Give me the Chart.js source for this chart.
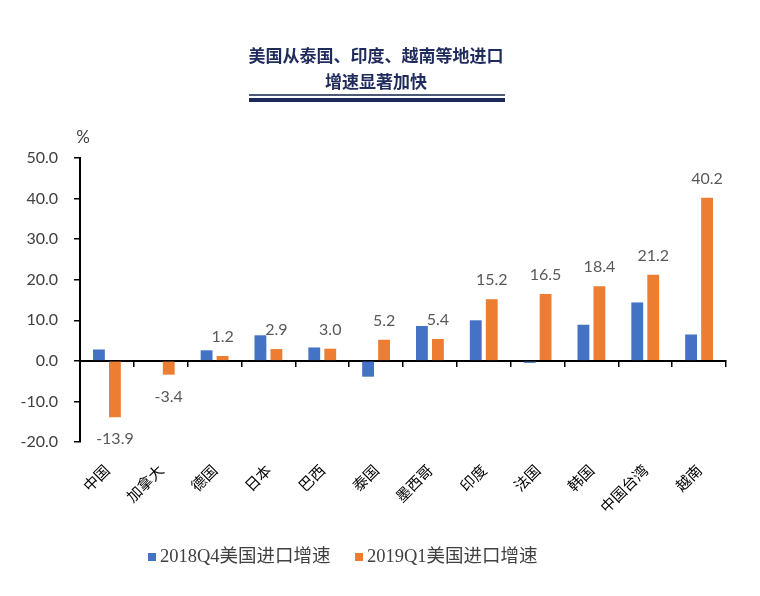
<!DOCTYPE html>
<html lang="zh-CN">
<head>
<meta charset="utf-8">
<title>美国从泰国、印度、越南等地进口增速显著加快</title>
<script src="https://cdn.jsdelivr.net/npm/chart.js@4/dist/chart.umd.min.js"></script>
<style>
  html, body { margin: 0; padding: 0; background: #fff; }
  #page { position: relative; width: 760px; height: 596px; overflow: hidden; }
  #chartBox { position: absolute; left: 0; top: 0; width: 760px; height: 596px; }
  .title {
    position: absolute; left: 0; width: 752px; text-align: center;
    font: bold 17px "Noto Sans CJK SC", sans-serif; color: #1f2b5c; line-height: 24px;
  }
  .rule { position: absolute; left: 249px; width: 256px; }
  .rule.thin { top: 94px; height: 2px; background: #4c5a78; }
  .rule.thick { top: 98px; height: 4px; background: #1c2a5a; }
  .legend-item {
    position: absolute; top: 541px; height: 24px; line-height: 24px;
    font: 18.5px "Liberation Serif", "Noto Sans CJK SC", serif; color: #404040; white-space: nowrap;
  }
  .legend-item i { display: inline-block; width: 8px; height: 8px; margin-right: 4px; vertical-align: 1px; }
</style>
</head>
<body>
<div id="page">
  <div id="chartBox"><canvas id="chart"></canvas></div>
  <div class="title" style="top:43px">美国从泰国、印度、越南等地进口</div>
  <div class="title" style="top:69px">增速显著加快</div>
  <div class="rule thin"></div>
  <div class="rule thick"></div>
  <div class="legend-item" style="left:148px"><i style="background:#4472c4"></i>2018Q4美国进口增速</div>
  <div class="legend-item" style="left:355px"><i style="background:#ed7d31"></i>2019Q1美国进口增速</div>
</div>
<script>
'use strict';

// 国家/地区
const categories = ['中国', '加拿大', '德国', '日本', '巴西', '泰国', '墨西哥', '印度', '法国', '韩国', '中国台湾', '越南'];
// 2018Q4 美国进口增速（%，从图上估读）
const importGrowth2018Q4 = [2.8, 0, 2.6, 6.3, 3.3, -3.9, 8.6, 10.0, -0.5, 8.9, 14.4, 6.5];
// 2019Q1 美国进口增速（%，图中标注）
const importGrowth2019Q1 = [-13.9, -3.4, 1.2, 2.9, 3.0, 5.2, 5.4, 15.2, 16.5, 18.4, 21.2, 40.2];
const seriesNames = ['2018Q4美国进口增速', '2019Q1美国进口增速'];
const yMin = -20, yMax = 50, yStep = 10;

const BLUE = '#4472c4';
const ORANGE = '#ed7d31';

Chart.defaults.font.family = 'Lato, "Noto Sans CJK SC", sans-serif';

// 橙色柱上方/下方的数值标注
const valueLabels = {
  id: 'valueLabels',
  afterDatasetsDraw(chart) {
    const { ctx } = chart;
    const meta = chart.getDatasetMeta(1);
    ctx.save();
    ctx.font = '16px Lato, sans-serif';
    ctx.fillStyle = '#595959';
    ctx.textAlign = 'center';
    ctx.textBaseline = 'middle';
    meta.data.forEach((bar, i) => {
      const v = importGrowth2019Q1[i];
      const y = v >= 0 ? bar.y - 19 : bar.y + 22;
      ctx.fillText(v.toFixed(1), bar.x, y);
    });
    ctx.restore();
  }
};

// 纵轴单位 "%"
const unitLabel = {
  id: 'unitLabel',
  afterDraw(chart) {
    const { ctx, chartArea } = chart;
    ctx.save();
    ctx.font = '17px Lato, sans-serif';
    ctx.fillStyle = '#404040';
    ctx.textAlign = 'center';
    ctx.textBaseline = 'middle';
    ctx.fillText('%', chartArea.left + 3, chartArea.top - 20);
    ctx.restore();
  }
};

new Chart(document.getElementById('chart'), {
  type: 'bar',
  data: {
    labels: categories,
    datasets: [
      { label: seriesNames[0], data: importGrowth2018Q4, backgroundColor: BLUE },
      { label: seriesNames[1], data: importGrowth2019Q1, backgroundColor: ORANGE }
    ]
  },
  options: {
    responsive: true,
    maintainAspectRatio: false,
    animation: false,
    categoryPercentage: 0.594,
    barPercentage: 0.74,
    layout: { padding: { top: 158, right: 34, bottom: 0, left: 0 } },
    plugins: {
      legend: { display: false },
      tooltip: { enabled: false }
    },
    scales: {
      x: {
        border: { display: false },
        grid: { display: false },
        ticks: {
          minRotation: 45, maxRotation: 45, padding: 11,
          color: '#000',
          font: { family: '"Noto Sans CJK SC", sans-serif', size: 15 }
        },
        afterFit: (scale) => { scale.height = 154; }
      },
      // 零线和分类刻度
      x2: {
        type: 'category',
        position: { y: 0 },
        offset: true,
        border: { display: true, color: '#000', width: 2 },
        grid: { offset: true, drawOnChartArea: false, drawTicks: true, tickLength: 5, color: '#000', lineWidth: 1.5 },
        ticks: { display: false }
      },
      y: {
        min: yMin,
        max: yMax,
        border: { display: true, color: '#000', width: 2 },
        grid: { drawOnChartArea: false, drawTicks: true, tickLength: 6, color: '#000', lineWidth: 1.5 },
        ticks: {
          stepSize: yStep, padding: 16, color: '#404040',
          font: { size: 16 },
          callback: (v) => Number(v).toFixed(1)
        },
        afterFit: (scale) => { scale.width = 80; }
      }
    }
  },
  plugins: [valueLabels, unitLabel]
});
</script>
</body>
</html>
